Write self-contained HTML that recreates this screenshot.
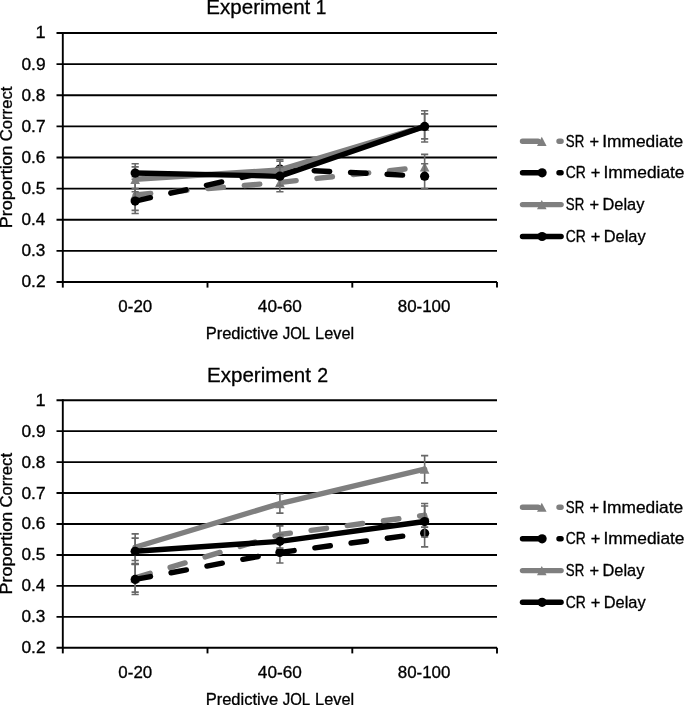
<!DOCTYPE html>
<html lang="en">
<head>
<meta charset="utf-8">
<title>Experiment 1 and Experiment 2</title>
<style>
html,body{margin:0;padding:0;background:#fff;}
body{width:685px;height:705px;overflow:hidden;}
svg{display:block;will-change:transform;}
svg text{font-family:"Liberation Sans", sans-serif;fill:#000;stroke:#000;stroke-width:0.3px;}
</style>
</head>
<body>
<svg width="685" height="705" viewBox="0 0 685 705">
<rect width="685" height="705" fill="#fff"/>
<g>
<line x1="56.5" y1="282.00" x2="497.0" y2="282.00" stroke="#000" stroke-width="1.9"/>
<line x1="56.5" y1="250.88" x2="497.0" y2="250.88" stroke="#000" stroke-width="1.9"/>
<line x1="56.5" y1="219.75" x2="497.0" y2="219.75" stroke="#000" stroke-width="1.9"/>
<line x1="56.5" y1="188.62" x2="497.0" y2="188.62" stroke="#000" stroke-width="1.9"/>
<line x1="56.5" y1="157.50" x2="497.0" y2="157.50" stroke="#000" stroke-width="1.9"/>
<line x1="56.5" y1="126.38" x2="497.0" y2="126.38" stroke="#000" stroke-width="1.9"/>
<line x1="56.5" y1="95.25" x2="497.0" y2="95.25" stroke="#000" stroke-width="1.9"/>
<line x1="56.5" y1="64.12" x2="497.0" y2="64.12" stroke="#000" stroke-width="1.9"/>
<line x1="56.5" y1="33.00" x2="497.0" y2="33.00" stroke="#000" stroke-width="1.9"/>
<line x1="62.8" y1="32.05" x2="62.8" y2="287.60" stroke="#000" stroke-width="1.9"/>
<line x1="207.5" y1="282.00" x2="207.5" y2="287.60" stroke="#000" stroke-width="1.9"/>
<line x1="352.3" y1="282.00" x2="352.3" y2="287.60" stroke="#000" stroke-width="1.9"/>
<line x1="497.0" y1="282.00" x2="497.0" y2="287.60" stroke="#000" stroke-width="1.9"/>
<text x="21.48" y="287.45" font-size="15.6" textLength="24.12" lengthAdjust="spacingAndGlyphs">0.2</text>
<text x="21.48" y="256.32" font-size="15.6" textLength="23.94" lengthAdjust="spacingAndGlyphs">0.3</text>
<text x="21.49" y="225.20" font-size="15.6" textLength="23.76" lengthAdjust="spacingAndGlyphs">0.4</text>
<text x="21.48" y="194.07" font-size="15.6" textLength="23.94" lengthAdjust="spacingAndGlyphs">0.5</text>
<text x="21.48" y="162.95" font-size="15.6" textLength="23.94" lengthAdjust="spacingAndGlyphs">0.6</text>
<text x="21.48" y="131.83" font-size="15.6" textLength="24.12" lengthAdjust="spacingAndGlyphs">0.7</text>
<text x="21.48" y="100.70" font-size="15.6" textLength="23.94" lengthAdjust="spacingAndGlyphs">0.8</text>
<text x="21.48" y="69.57" font-size="15.6" textLength="24.12" lengthAdjust="spacingAndGlyphs">0.9</text>
<text x="35.53" y="38.45" font-size="15.6" textLength="10.11" lengthAdjust="spacingAndGlyphs">1</text>
<text x="118.39" y="311.90" font-size="15.6" textLength="33.82" lengthAdjust="spacingAndGlyphs">0-20</text>
<text x="257.86" y="311.90" font-size="15.6" textLength="43.97" lengthAdjust="spacingAndGlyphs">40-60</text>
<text x="397.72" y="311.90" font-size="15.6" textLength="52.69" lengthAdjust="spacingAndGlyphs">80-100</text>
<text x="205.68" y="338.90" font-size="15.8" textLength="72.52" lengthAdjust="spacingAndGlyphs">Predictive</text>
<text x="282.75" y="338.90" font-size="15.8" textLength="27.44" lengthAdjust="spacingAndGlyphs">JOL</text>
<text x="315.09" y="338.90" font-size="15.8" textLength="39.02" lengthAdjust="spacingAndGlyphs">Level</text>
<text transform="translate(12.20 228.24) rotate(-90)" font-size="15.8" textLength="82.84" lengthAdjust="spacingAndGlyphs">Proportion</text>
<text transform="translate(12.20 141.23) rotate(-90)" font-size="15.8" textLength="54.60" lengthAdjust="spacingAndGlyphs">Correct</text>
<text x="206.36" y="13.90" font-size="19.8" textLength="103.90" lengthAdjust="spacingAndGlyphs">Experiment</text>
<text x="315.86" y="13.90" font-size="19.8" textLength="10.62" lengthAdjust="spacingAndGlyphs">1</text>
<path d="M135.17 179.29V210.41M131.57 179.29h7.2M131.57 210.41h7.2" fill="none" stroke="#686868" stroke-width="1.6"/>
<path d="M279.90 173.06V191.74M276.30 173.06h7.2M276.30 191.74h7.2" fill="none" stroke="#686868" stroke-width="1.6"/>
<path d="M424.63 154.39V179.29M421.03 154.39h7.2M421.03 179.29h7.2" fill="none" stroke="#686868" stroke-width="1.6"/>
<path d="M135.17 194.85 L279.90 182.40 L424.63 166.84" fill="none" stroke="#7f7f7f" stroke-width="5.4" stroke-linecap="round" stroke-linejoin="round" stroke-dasharray="15.6 20.9"/>
<path d="M135.17 190.35L139.97 199.45H130.37Z" fill="#7f7f7f"/>
<path d="M279.90 177.90L284.70 187.00H275.10Z" fill="#7f7f7f"/>
<path d="M424.63 162.34L429.43 171.44H419.83Z" fill="#7f7f7f"/>
<path d="M135.17 188.62V213.52M131.57 188.62h7.2M131.57 213.52h7.2" fill="none" stroke="#686868" stroke-width="1.6"/>
<path d="M279.90 159.68V178.35M276.30 159.68h7.2M276.30 178.35h7.2" fill="none" stroke="#686868" stroke-width="1.6"/>
<path d="M424.63 163.72V188.62M421.03 163.72h7.2M421.03 188.62h7.2" fill="none" stroke="#686868" stroke-width="1.6"/>
<path d="M135.17 201.07 L279.90 169.02 L424.63 176.18" fill="none" stroke="#000" stroke-width="5.4" stroke-linecap="round" stroke-linejoin="round" stroke-dasharray="15.6 20.9"/>
<circle cx="135.17" cy="201.07" r="4.6" fill="#000"/>
<circle cx="279.90" cy="169.02" r="4.6" fill="#000"/>
<circle cx="424.63" cy="176.18" r="4.6" fill="#000"/>
<path d="M135.17 166.84V191.74M131.57 166.84h7.2M131.57 191.74h7.2" fill="none" stroke="#686868" stroke-width="1.6"/>
<path d="M279.90 161.23V178.67M276.30 161.23h7.2M276.30 178.67h7.2" fill="none" stroke="#686868" stroke-width="1.6"/>
<path d="M424.63 110.81V141.94M421.03 110.81h7.2M421.03 141.94h7.2" fill="none" stroke="#686868" stroke-width="1.6"/>
<path d="M135.17 179.29 L279.90 169.95 L424.63 126.38" fill="none" stroke="#7f7f7f" stroke-width="5.4" stroke-linecap="round" stroke-linejoin="round"/>
<path d="M135.17 174.79L139.97 183.89H130.37Z" fill="#7f7f7f"/>
<path d="M279.90 165.45L284.70 174.55H275.10Z" fill="#7f7f7f"/>
<path d="M424.63 121.88L429.43 130.98H419.83Z" fill="#7f7f7f"/>
<path d="M135.17 163.72V176.80M131.57 163.72h7.2M131.57 176.80h7.2" fill="none" stroke="#686868" stroke-width="1.6"/>
<path d="M279.90 166.84V185.51M276.30 166.84h7.2M276.30 185.51h7.2" fill="none" stroke="#686868" stroke-width="1.6"/>
<path d="M424.63 113.92V138.83M421.03 113.92h7.2M421.03 138.83h7.2" fill="none" stroke="#686868" stroke-width="1.6"/>
<path d="M135.17 173.06 L279.90 176.18 L424.63 126.38" fill="none" stroke="#000" stroke-width="5.4" stroke-linecap="round" stroke-linejoin="round"/>
<circle cx="135.17" cy="173.06" r="4.6" fill="#000"/>
<circle cx="279.90" cy="176.18" r="4.6" fill="#000"/>
<circle cx="424.63" cy="126.38" r="4.6" fill="#000"/>
<path d="M522.5 141.30H561.1" fill="none" stroke="#7f7f7f" stroke-width="5.4" stroke-linecap="round" stroke-dasharray="15.6 20.9"/>
<path d="M541.80 136.80L546.60 145.90H537.00Z" fill="#7f7f7f"/>
<text x="565.87" y="146.70" font-size="16.1" textLength="18.39" lengthAdjust="spacingAndGlyphs">SR</text>
<text x="589.44" y="146.70" font-size="16.1" textLength="9.58" lengthAdjust="spacingAndGlyphs">+</text>
<text x="602.24" y="146.70" font-size="16.1" textLength="80.99" lengthAdjust="spacingAndGlyphs">Immediate</text>
<path d="M522.5 172.80H561.1" fill="none" stroke="#000" stroke-width="5.4" stroke-linecap="round" stroke-dasharray="15.6 20.9"/>
<circle cx="542.1" cy="172.80" r="4.6" fill="#000"/>
<text x="565.70" y="178.20" font-size="16.1" textLength="20.08" lengthAdjust="spacingAndGlyphs">CR</text>
<text x="590.74" y="178.20" font-size="16.1" textLength="9.58" lengthAdjust="spacingAndGlyphs">+</text>
<text x="603.54" y="178.20" font-size="16.1" textLength="80.99" lengthAdjust="spacingAndGlyphs">Immediate</text>
<path d="M522.5 204.60H561.1" fill="none" stroke="#7f7f7f" stroke-width="5.4" stroke-linecap="round"/>
<path d="M541.80 200.10L546.60 209.20H537.00Z" fill="#7f7f7f"/>
<text x="565.87" y="210.00" font-size="16.1" textLength="18.39" lengthAdjust="spacingAndGlyphs">SR</text>
<text x="589.44" y="210.00" font-size="16.1" textLength="9.58" lengthAdjust="spacingAndGlyphs">+</text>
<text x="602.49" y="210.00" font-size="16.1" textLength="41.91" lengthAdjust="spacingAndGlyphs">Delay</text>
<path d="M522.5 236.50H561.1" fill="none" stroke="#000" stroke-width="5.4" stroke-linecap="round"/>
<circle cx="542.1" cy="236.50" r="4.6" fill="#000"/>
<text x="565.70" y="241.90" font-size="16.1" textLength="20.08" lengthAdjust="spacingAndGlyphs">CR</text>
<text x="590.74" y="241.90" font-size="16.1" textLength="9.58" lengthAdjust="spacingAndGlyphs">+</text>
<text x="603.79" y="241.90" font-size="16.1" textLength="41.91" lengthAdjust="spacingAndGlyphs">Delay</text>
</g>
<g>
<line x1="56.5" y1="647.80" x2="497.0" y2="647.80" stroke="#000" stroke-width="1.9"/>
<line x1="56.5" y1="616.85" x2="497.0" y2="616.85" stroke="#000" stroke-width="1.9"/>
<line x1="56.5" y1="585.90" x2="497.0" y2="585.90" stroke="#000" stroke-width="1.9"/>
<line x1="56.5" y1="554.95" x2="497.0" y2="554.95" stroke="#000" stroke-width="1.9"/>
<line x1="56.5" y1="524.00" x2="497.0" y2="524.00" stroke="#000" stroke-width="1.9"/>
<line x1="56.5" y1="493.05" x2="497.0" y2="493.05" stroke="#000" stroke-width="1.9"/>
<line x1="56.5" y1="462.10" x2="497.0" y2="462.10" stroke="#000" stroke-width="1.9"/>
<line x1="56.5" y1="431.15" x2="497.0" y2="431.15" stroke="#000" stroke-width="1.9"/>
<line x1="56.5" y1="400.20" x2="497.0" y2="400.20" stroke="#000" stroke-width="1.9"/>
<line x1="62.8" y1="399.25" x2="62.8" y2="653.40" stroke="#000" stroke-width="1.9"/>
<line x1="207.5" y1="647.80" x2="207.5" y2="653.40" stroke="#000" stroke-width="1.9"/>
<line x1="352.3" y1="647.80" x2="352.3" y2="653.40" stroke="#000" stroke-width="1.9"/>
<line x1="497.0" y1="647.80" x2="497.0" y2="653.40" stroke="#000" stroke-width="1.9"/>
<text x="21.48" y="653.25" font-size="15.6" textLength="24.12" lengthAdjust="spacingAndGlyphs">0.2</text>
<text x="21.48" y="622.30" font-size="15.6" textLength="23.94" lengthAdjust="spacingAndGlyphs">0.3</text>
<text x="21.49" y="591.35" font-size="15.6" textLength="23.76" lengthAdjust="spacingAndGlyphs">0.4</text>
<text x="21.48" y="560.40" font-size="15.6" textLength="23.94" lengthAdjust="spacingAndGlyphs">0.5</text>
<text x="21.48" y="529.45" font-size="15.6" textLength="23.94" lengthAdjust="spacingAndGlyphs">0.6</text>
<text x="21.48" y="498.50" font-size="15.6" textLength="24.12" lengthAdjust="spacingAndGlyphs">0.7</text>
<text x="21.48" y="467.55" font-size="15.6" textLength="23.94" lengthAdjust="spacingAndGlyphs">0.8</text>
<text x="21.48" y="436.60" font-size="15.6" textLength="24.12" lengthAdjust="spacingAndGlyphs">0.9</text>
<text x="35.53" y="405.65" font-size="15.6" textLength="10.11" lengthAdjust="spacingAndGlyphs">1</text>
<text x="118.39" y="677.60" font-size="15.6" textLength="33.82" lengthAdjust="spacingAndGlyphs">0-20</text>
<text x="257.86" y="677.60" font-size="15.6" textLength="43.97" lengthAdjust="spacingAndGlyphs">40-60</text>
<text x="397.72" y="677.60" font-size="15.6" textLength="52.69" lengthAdjust="spacingAndGlyphs">80-100</text>
<text x="205.68" y="705.10" font-size="15.8" textLength="72.52" lengthAdjust="spacingAndGlyphs">Predictive</text>
<text x="282.75" y="705.10" font-size="15.8" textLength="27.44" lengthAdjust="spacingAndGlyphs">JOL</text>
<text x="315.09" y="705.10" font-size="15.8" textLength="39.02" lengthAdjust="spacingAndGlyphs">Level</text>
<text transform="translate(12.20 594.54) rotate(-90)" font-size="15.8" textLength="82.84" lengthAdjust="spacingAndGlyphs">Proportion</text>
<text transform="translate(12.20 507.53) rotate(-90)" font-size="15.8" textLength="54.60" lengthAdjust="spacingAndGlyphs">Correct</text>
<text x="207.06" y="381.50" font-size="19.8" textLength="103.90" lengthAdjust="spacingAndGlyphs">Experiment</text>
<text x="317.22" y="381.50" font-size="19.8" textLength="10.88" lengthAdjust="spacingAndGlyphs">2</text>
<path d="M135.17 563.62V592.09M131.57 563.62h7.2M131.57 592.09h7.2" fill="none" stroke="#686868" stroke-width="1.6"/>
<path d="M279.90 525.86V543.19M276.30 525.86h7.2M276.30 543.19h7.2" fill="none" stroke="#686868" stroke-width="1.6"/>
<path d="M424.63 503.57V527.10M421.03 503.57h7.2M421.03 527.10h7.2" fill="none" stroke="#686868" stroke-width="1.6"/>
<path d="M135.17 577.85 L279.90 534.52 L424.63 515.33" fill="none" stroke="#7f7f7f" stroke-width="5.4" stroke-linecap="round" stroke-linejoin="round" stroke-dasharray="15.6 20.9"/>
<path d="M135.17 573.35L139.97 582.45H130.37Z" fill="#7f7f7f"/>
<path d="M279.90 530.02L284.70 539.12H275.10Z" fill="#7f7f7f"/>
<path d="M424.63 510.83L429.43 519.93H419.83Z" fill="#7f7f7f"/>
<path d="M135.17 564.24V594.57M131.57 564.24h7.2M131.57 594.57h7.2" fill="none" stroke="#686868" stroke-width="1.6"/>
<path d="M279.90 541.95V563.00M276.30 541.95h7.2M276.30 563.00h7.2" fill="none" stroke="#686868" stroke-width="1.6"/>
<path d="M424.63 519.67V546.90M421.03 519.67h7.2M421.03 546.90h7.2" fill="none" stroke="#686868" stroke-width="1.6"/>
<path d="M135.17 579.40 L279.90 552.47 L424.63 533.28" fill="none" stroke="#000" stroke-width="5.4" stroke-linecap="round" stroke-linejoin="round" stroke-dasharray="15.6 20.9"/>
<circle cx="135.17" cy="579.40" r="4.6" fill="#000"/>
<circle cx="279.90" cy="552.47" r="4.6" fill="#000"/>
<circle cx="424.63" cy="533.28" r="4.6" fill="#000"/>
<path d="M135.17 533.90V560.52M131.57 533.90h7.2M131.57 560.52h7.2" fill="none" stroke="#686868" stroke-width="1.6"/>
<path d="M279.90 493.98V513.17M276.30 493.98h7.2M276.30 513.17h7.2" fill="none" stroke="#686868" stroke-width="1.6"/>
<path d="M424.63 455.60V482.84M421.03 455.60h7.2M421.03 482.84h7.2" fill="none" stroke="#686868" stroke-width="1.6"/>
<path d="M135.17 547.21 L279.90 503.57 L424.63 469.22" fill="none" stroke="#7f7f7f" stroke-width="5.4" stroke-linecap="round" stroke-linejoin="round"/>
<path d="M135.17 542.71L139.97 551.81H130.37Z" fill="#7f7f7f"/>
<path d="M279.90 499.07L284.70 508.17H275.10Z" fill="#7f7f7f"/>
<path d="M424.63 464.72L429.43 473.82H419.83Z" fill="#7f7f7f"/>
<path d="M135.17 538.08V564.39M131.57 538.08h7.2M131.57 564.39h7.2" fill="none" stroke="#686868" stroke-width="1.6"/>
<path d="M279.90 534.52V548.14M276.30 534.52h7.2M276.30 548.14h7.2" fill="none" stroke="#686868" stroke-width="1.6"/>
<path d="M424.63 506.05V537.00M421.03 506.05h7.2M421.03 537.00h7.2" fill="none" stroke="#686868" stroke-width="1.6"/>
<path d="M135.17 551.24 L279.90 541.33 L424.63 521.52" fill="none" stroke="#000" stroke-width="5.4" stroke-linecap="round" stroke-linejoin="round"/>
<circle cx="135.17" cy="551.24" r="4.6" fill="#000"/>
<circle cx="279.90" cy="541.33" r="4.6" fill="#000"/>
<circle cx="424.63" cy="521.52" r="4.6" fill="#000"/>
<path d="M522.5 507.20H561.1" fill="none" stroke="#7f7f7f" stroke-width="5.4" stroke-linecap="round" stroke-dasharray="15.6 20.9"/>
<path d="M541.80 502.70L546.60 511.80H537.00Z" fill="#7f7f7f"/>
<text x="565.87" y="512.60" font-size="16.1" textLength="18.39" lengthAdjust="spacingAndGlyphs">SR</text>
<text x="589.44" y="512.60" font-size="16.1" textLength="9.58" lengthAdjust="spacingAndGlyphs">+</text>
<text x="602.24" y="512.60" font-size="16.1" textLength="80.99" lengthAdjust="spacingAndGlyphs">Immediate</text>
<path d="M522.5 538.80H561.1" fill="none" stroke="#000" stroke-width="5.4" stroke-linecap="round" stroke-dasharray="15.6 20.9"/>
<circle cx="542.1" cy="538.80" r="4.6" fill="#000"/>
<text x="565.70" y="544.20" font-size="16.1" textLength="20.08" lengthAdjust="spacingAndGlyphs">CR</text>
<text x="590.74" y="544.20" font-size="16.1" textLength="9.58" lengthAdjust="spacingAndGlyphs">+</text>
<text x="603.54" y="544.20" font-size="16.1" textLength="80.99" lengthAdjust="spacingAndGlyphs">Immediate</text>
<path d="M522.5 570.60H561.1" fill="none" stroke="#7f7f7f" stroke-width="5.4" stroke-linecap="round"/>
<path d="M541.80 566.10L546.60 575.20H537.00Z" fill="#7f7f7f"/>
<text x="565.87" y="576.00" font-size="16.1" textLength="18.39" lengthAdjust="spacingAndGlyphs">SR</text>
<text x="589.44" y="576.00" font-size="16.1" textLength="9.58" lengthAdjust="spacingAndGlyphs">+</text>
<text x="602.49" y="576.00" font-size="16.1" textLength="41.91" lengthAdjust="spacingAndGlyphs">Delay</text>
<path d="M522.5 602.30H561.1" fill="none" stroke="#000" stroke-width="5.4" stroke-linecap="round"/>
<circle cx="542.1" cy="602.30" r="4.6" fill="#000"/>
<text x="565.70" y="607.70" font-size="16.1" textLength="20.08" lengthAdjust="spacingAndGlyphs">CR</text>
<text x="590.74" y="607.70" font-size="16.1" textLength="9.58" lengthAdjust="spacingAndGlyphs">+</text>
<text x="603.79" y="607.70" font-size="16.1" textLength="41.91" lengthAdjust="spacingAndGlyphs">Delay</text>
</g>
</svg>
</body>
</html>
